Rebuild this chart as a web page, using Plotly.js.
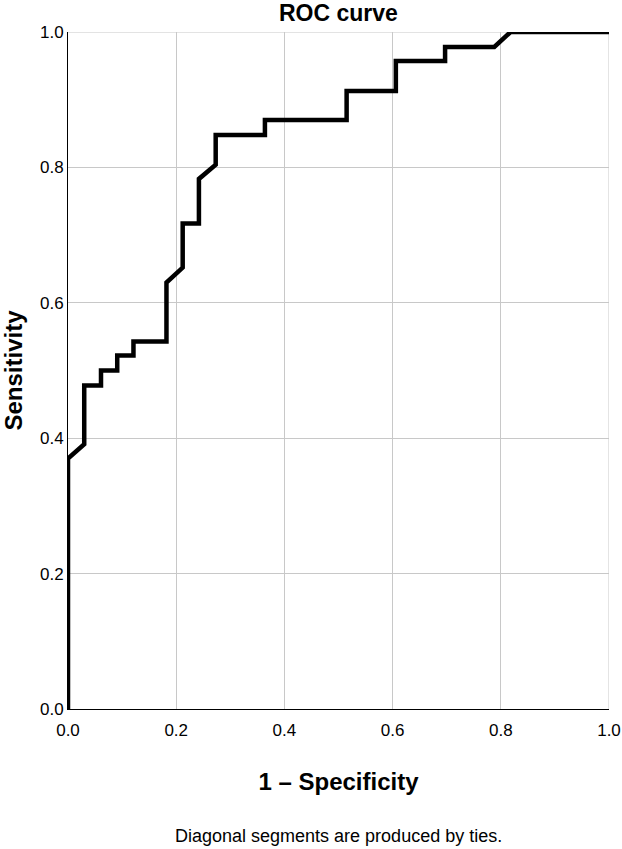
<!DOCTYPE html>
<html>
<head>
<meta charset="utf-8">
<script src="https://cdn.plot.ly/plotly-3.0.1.min.js"></script>
<style>
  html, body { margin: 0; padding: 0; background: #ffffff; }
  #chart { width: 622px; height: 849px; }
</style>
</head>
<body>
<div id="chart"></div>
<script>
// ROC curve points (1 - Specificity, Sensitivity)
const falsePositiveRate = [0, 0, 0.030, 0.030, 0.061, 0.061, 0.091, 0.091, 0.121, 0.121, 0.182, 0.182, 0.212, 0.212, 0.242, 0.242, 0.273, 0.273, 0.364, 0.364, 0.515, 0.515, 0.606, 0.606, 0.697, 0.697, 0.788, 0.818, 1.0];
const sensitivity = [0, 0.370, 0.391, 0.478, 0.478, 0.500, 0.500, 0.522, 0.522, 0.543, 0.543, 0.630, 0.652, 0.717, 0.717, 0.783, 0.804, 0.848, 0.848, 0.870, 0.870, 0.913, 0.913, 0.957, 0.957, 0.978, 0.978, 1.0, 1.0];
const tickValues = [0, 0.2, 0.4, 0.6, 0.8, 1.0];
const tickLabels = ["0.0", "0.2", "0.4", "0.6", "0.8", "1.0"];

const FONT = "Liberation Sans, Arial, sans-serif";

const trace = {
  x: falsePositiveRate,
  y: sensitivity,
  type: "scatter",
  mode: "lines",
  line: { color: "#000000", width: 4.5 },
  hoverinfo: "skip",
  cliponaxis: false
};

const layout = {
  width: 622,
  height: 849,
  margin: { l: 68, r: 13, t: 32, b: 140 },
  paper_bgcolor: "#ffffff",
  plot_bgcolor: "#ffffff",
  showlegend: false,
  font: { family: FONT, color: "#000000" },
  title: {
    text: "<b>ROC curve</b>",
    font: { family: FONT, size: 23, color: "#000000" },
    x: 0.544, xanchor: "center",
    y: 0.985, yanchor: "middle", yref: "container"
  },
  xaxis: {
    range: [0, 1],
    tickvals: tickValues,
    ticktext: tickLabels,
    ticks: "",
    ticklabelstandoff: 6,
    tickfont: { family: FONT, size: 17, color: "#000000" },
    showgrid: true,
    gridcolor: "#c8c8c8",
    gridwidth: 1,
    zeroline: false,
    showline: true,
    linecolor: "#000000",
    linewidth: 1,
    mirror: false,
    title: {
      text: "<b>1 – Specificity</b>",
      font: { family: FONT, size: 24, color: "#000000" },
      standoff: 33
    }
  },
  yaxis: {
    range: [0, 1],
    tickvals: tickValues,
    ticktext: tickLabels,
    ticks: "",
    tickfont: { family: FONT, size: 17, color: "#000000" },
    showgrid: true,
    gridcolor: "#c8c8c8",
    gridwidth: 1,
    zeroline: false,
    showline: true,
    linecolor: "#000000",
    linewidth: 1,
    title: {
      text: "<b>Sensitivity</b>",
      font: { family: FONT, size: 24, color: "#000000" },
      standoff: 12
    }
  },
  shapes: [
    { type: "line", xref: "x", yref: "y", x0: 1, x1: 1, y0: 0, y1: 1, line: { color: "#c8c8c8", width: 1 }, layer: "below" },
    { type: "line", xref: "x", yref: "y", x0: 0, x1: 1, y0: 1, y1: 1, line: { color: "#c8c8c8", width: 1 }, layer: "below" }
  ],
  annotations: [
    {
      text: "Diagonal segments are produced by ties.",
      xref: "paper", yref: "paper",
      x: 0.5, y: -0.188, xanchor: "center", yanchor: "middle",
      showarrow: false,
      font: { family: FONT, size: 18, color: "#000000" }
    }
  ]
};

Plotly.newPlot("chart", [trace], layout, { displayModeBar: false, staticPlot: true });
</script>
</body>
</html>
